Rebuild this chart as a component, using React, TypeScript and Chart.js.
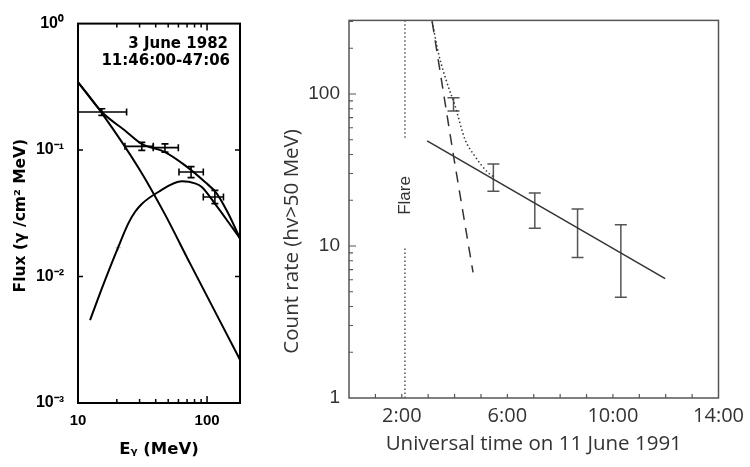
import React, { useEffect, useRef } from 'react';
import { Chart, registerables } from 'chart.js';
Chart.register(...registerables);

// ---------- Left panel: 3 June 1982 spectrum ----------
const totalEnergy = [10, 15.3, 23.1, 31.2, 47.2, 67.5, 96.4, 119, 146, 180];
const totalFlux = [0.345, 0.2, 0.143, 0.112, 0.0964, 0.0757, 0.0559, 0.0453, 0.0315, 0.02];
const powerEnergy = [10, 15.3, 30.3, 47.2, 73.8, 180];
const powerFlux = [0.345, 0.196, 0.069, 0.031, 0.0127, 0.0022];
const pionEnergy = [12.4, 15.9, 20.5, 24.5, 27.7, 31.2, 41.9, 63.7, 80.7, 91, 115, 146, 180];
const pionFlux = [0.00452, 0.0089, 0.0171, 0.0262, 0.0325, 0.0375, 0.0466, 0.0566, 0.0545, 0.051, 0.0377, 0.027, 0.02];

const pointEnergy = [15.3, 31.2, 47.2, 75.2, 115];
const pointFlux = [0.2, 0.107, 0.1045, 0.067, 0.0425];
const pointEnergyLow = [10, 23.1, 38.3, 60.6, 93.5];
const pointEnergyHigh = [23.8, 38.3, 59.9, 93.5, 134];
const pointFluxLow = [0.188, 0.0995, 0.0964, 0.0605, 0.0377];
const pointFluxHigh = [0.212, 0.115, 0.112, 0.074, 0.048];
const faintEnergy = [20.5];
const faintFlux = [0.0169];

const leftXLabelTicks = [10, 100];
const leftXMinorTicks = [20, 30, 40, 50, 60, 70, 80, 90];
const leftXMajorTicks = [100];
const leftYLabelTicks = [0.001, 0.01, 0.1, 1];
const leftYLabels = ['10⁻³', '10⁻²', '10⁻¹', '10⁰'];
const leftYMarkTicks = [0.01, 0.1];

// ---------- Right panel: 11 June 1991 count rate ----------
const flareHour = 2.12;
const flareTopRate = [51.5, 305];
const flareBottomRate = [1, 10];
const dottedHours = [3.15, 3.4, 3.71, 4.02, 4.39, 4.76, 5.26, 5.51];
const dottedRate = [300, 182, 119, 83.4, 50.5, 39.2, 30.5, 28.3];
const dashedHours = [3.15, 3.96, 4.7];
const dashedRate = [300, 39.2, 6.7];
const fitHours = [2.96, 11.98];
const fitRate = [49.2, 6.1];
const barHours = [3.96, 5.47, 7.04, 8.66, 10.3];
const barLow = [77.4, 22.9, 13.1, 8.4, 4.6];
const barHigh = [94.6, 34.6, 22.3, 17.5, 13.8];

const rightXTicks = [0, 1, 2, 3, 4, 5, 6, 7, 8, 9, 10, 11, 12, 13, 14];
const rightXLabelTicks = [2, 6, 10, 14];
const rightXLabels = ['2:00', '6:00', '10:00', '14:00'];
const rightYMajor = [1, 10, 100];
const rightYMinor = [2, 3, 4, 5, 6, 7, 8, 9, 20, 30, 40, 50, 60, 70, 80, 90, 200, 300];

const xy = (xs: number[], ys: number[]) => xs.map((x, i) => ({ x, y: ys[i] }));

const framePlugin = {
  id: 'frame',
  afterDatasetsDraw(chart: any, _args: any, opts: any) {
    const { ctx, chartArea: a, scales } = chart;
    ctx.save();
    ctx.strokeStyle = opts.color;
    ctx.lineWidth = opts.width;
    ctx.strokeRect(a.left, a.top, a.right - a.left, a.bottom - a.top);
    ctx.lineWidth = opts.tickWidth;
    ctx.beginPath();
    for (const t of opts.xTicks) {
      const px = scales.x.getPixelForValue(t.v);
      if (px <= a.left + 1 || px >= a.right - 1) continue;
      ctx.moveTo(px, a.bottom);
      ctx.lineTo(px, a.bottom - t.len);
      if (opts.xTop) {
        ctx.moveTo(px, a.top);
        ctx.lineTo(px, a.top + t.len);
      }
    }
    for (const t of opts.yTicks) {
      const py = scales.y.getPixelForValue(t.v);
      if (py <= a.top + 1 || py >= a.bottom - 1) continue;
      ctx.moveTo(a.left, py);
      ctx.lineTo(a.left + t.len, py);
      if (opts.yRight) {
        ctx.moveTo(a.right, py);
        ctx.lineTo(a.right - t.len, py);
      }
    }
    ctx.stroke();
    for (const t of opts.texts || []) {
      ctx.save();
      ctx.font = t.font;
      ctx.fillStyle = t.color;
      ctx.textAlign = t.align;
      ctx.textBaseline = 'middle';
      let x: number, y: number;
      if (t.data) {
        x = scales.x.getPixelForValue(t.x);
        y = scales.y.getPixelForValue(t.y);
      } else {
        x = (t.fromRight ? a.right : a.left) + t.dx;
        y = a.top + t.dy;
      }
      ctx.translate(x, y);
      if (t.rotate) ctx.rotate(t.rotate);
      ctx.fillText(t.text, 0, 0);
      ctx.restore();
    }
    ctx.restore();
  },
};

function leftConfig(): any {
  const hBars = pointEnergy.flatMap((_, i) => [
    { x: pointEnergyLow[i], y: pointFlux[i] },
    { x: pointEnergyHigh[i], y: pointFlux[i] },
    { x: pointEnergyHigh[i], y: null },
  ]);
  const vBars = pointEnergy.flatMap((e, i) => [
    { x: e, y: pointFluxLow[i] },
    { x: e, y: pointFluxHigh[i] },
    { x: e, y: null },
  ]);
  const curve = (data: any) => ({
    data, showLine: true, borderColor: '#000', borderWidth: 2, pointRadius: 0,
    cubicInterpolationMode: 'monotone', fill: false,
  });
  const tickFont = { family: 'Liberation Sans', weight: 'bold', size: 15 };
  const titleFont = { family: 'DejaVu Sans', weight: 'bold', size: 16.5 };
  return {
    type: 'scatter',
    data: {
      datasets: [
        curve(xy(totalEnergy, totalFlux)),
        curve(xy(powerEnergy, powerFlux)),
        curve(xy(pionEnergy, pionFlux)),
        {
          data: hBars, showLine: true, spanGaps: false, borderColor: '#000', borderWidth: 1.6,
          pointStyle: 'line', rotation: 90, pointRadius: 3.5, pointBorderColor: '#000', pointBorderWidth: 1.6,
        },
        {
          data: vBars, showLine: true, spanGaps: false, borderColor: '#000', borderWidth: 1.6,
          pointStyle: 'line', rotation: 0, pointRadius: 3.5, pointBorderColor: '#000', pointBorderWidth: 1.6,
        },
        {
          data: xy(faintEnergy, faintFlux), showLine: false, pointStyle: 'cross', pointRadius: 3,
          pointBorderColor: '#bbb', pointBorderWidth: 1,
        },
      ],
    },
    options: {
      responsive: false, animation: false, events: [],
      layout: { padding: { left: 7, right: 10, top: 23, bottom: 3 } },
      plugins: {
        legend: { display: false }, tooltip: { enabled: false },
        frame: {
          color: '#000', width: 2, tickWidth: 1.5, xTop: true, yRight: true,
          xTicks: [...leftXMinorTicks.map((v) => ({ v, len: 4 })), ...leftXMajorTicks.map((v) => ({ v, len: 7 }))],
          yTicks: leftYMarkTicks.map((v) => ({ v, len: 5 })),
          texts: [
            { text: '3 June 1982', font: 'bold 15px "DejaVu Sans"', color: '#000', align: 'right', fromRight: true, dx: -12, dy: 21 },
            { text: '11:46:00-47:06', font: 'bold 15px "DejaVu Sans"', color: '#000', align: 'right', fromRight: true, dx: -10, dy: 38 },
            { text: 'Flux (γ /cm² MeV)', font: 'bold 15.5px "DejaVu Sans"', color: '#000', align: 'center', dx: -57, dy: 192, rotate: -Math.PI / 2 },
          ],
        },
      },
      scales: {
        x: {
          type: 'logarithmic', min: 10, max: 180,
          afterFit: (s: any) => { s.height = 61; },
          afterBuildTicks: (s: any) => { s.ticks = leftXLabelTicks.map((v) => ({ value: v })); },
          ticks: { callback: (v: number) => String(v), autoSkip: false, maxRotation: 0, padding: 9, font: tickFont, color: '#000' },
          grid: { display: false, drawTicks: false }, border: { display: false },
          title: { display: true, text: 'Eᵧ (MeV)', font: titleFont, color: '#000', padding: { top: 0, bottom: 4 } },
        },
        y: {
          type: 'logarithmic', min: 0.001, max: 1,
          afterFit: (s: any) => { s.width = 71; },
          afterBuildTicks: (s: any) => { s.ticks = leftYLabelTicks.map((v) => ({ value: v })); },
          ticks: {
            callback: (v: number) => leftYLabels[leftYLabelTicks.indexOf(v)] ?? '',
            autoSkip: false, padding: 14, font: { ...tickFont, size: 16 }, color: '#000',
          },
          grid: { display: false, drawTicks: false }, border: { display: false },
          title: { display: false },
        },
      },
    },
    plugins: [framePlugin],
  };
}

function rightConfig(): any {
  const bars = barHours.flatMap((h, i) => [
    { x: h, y: barLow[i] },
    { x: h, y: barHigh[i] },
    { x: h, y: null },
  ]);
  const line = (data: any, dash: number[], color: string, mono = false) => ({
    data, showLine: true, borderColor: color, borderWidth: 1.5, borderDash: dash, pointRadius: 0,
    cubicInterpolationMode: mono ? 'monotone' : 'default', fill: false,
  });
  const tickFontY = { family: 'Liberation Sans', size: 19 };
  const tickFontX = { family: 'Open Sans', size: 20 };
  return {
    type: 'scatter',
    data: {
      datasets: [
        line(xy([flareHour, flareHour], flareTopRate), [1.5, 2.5], '#555'),
        line(xy([flareHour, flareHour], flareBottomRate), [1.5, 2.5], '#555'),
        line(xy(dottedHours, dottedRate), [1.5, 2.5], '#333', true),
        line(xy(dashedHours, dashedRate), [11, 8], '#333'),
        line(xy(fitHours, fitRate), [], '#333'),
        {
          data: bars, showLine: true, spanGaps: false, borderColor: '#555', borderWidth: 1.5,
          pointStyle: 'line', rotation: 0, pointRadius: 6, pointBorderColor: '#555', pointBorderWidth: 1.5,
        },
      ],
    },
    options: {
      responsive: false, animation: false, events: [],
      layout: { padding: { left: 11, right: 26, top: 19, bottom: 8 } },
      plugins: {
        legend: { display: false }, tooltip: { enabled: false },
        frame: {
          color: '#555', width: 1.5, tickWidth: 1.2, xTop: false, yRight: false,
          xTicks: rightXTicks.map((v) => ({ v, len: 4 })),
          yTicks: [...rightYMajor.map((v) => ({ v, len: 7 })), ...rightYMinor.map((v) => ({ v, len: 4 }))],
          texts: [
            { text: 'Flare', font: '17px "Liberation Sans"', color: '#333', align: 'center', data: true, x: flareHour, y: 21.5, rotate: -Math.PI / 2 },
            { text: 'Count rate (hv>50 MeV)', font: '20.5px "Open Sans"', color: '#333', align: 'center', dx: -57, dy: 221, rotate: -Math.PI / 2 },
          ],
        },
      },
      scales: {
        x: {
          type: 'linear', min: 0, max: 14,
          afterFit: (s: any) => { s.height = 61; },
          afterBuildTicks: (s: any) => { s.ticks = rightXLabelTicks.map((v) => ({ value: v })); },
          ticks: {
            callback: (v: number) => rightXLabels[rightXLabelTicks.indexOf(v)] ?? '',
            autoSkip: false, maxRotation: 0, padding: 6, font: tickFontX, color: '#333',
          },
          grid: { display: false, drawTicks: false }, border: { display: false },
          title: { display: true, text: 'Universal time on 11 June 1991', font: { family: 'Open Sans', size: 20.5 }, color: '#333', padding: { top: 0, bottom: 3 } },
        },
        y: {
          type: 'logarithmic', min: 1, max: 305,
          afterFit: (s: any) => { s.width = 76; },
          afterBuildTicks: (s: any) => { s.ticks = rightYMajor.map((v) => ({ value: v })); },
          ticks: { callback: (v: number) => String(v), autoSkip: false, padding: 9, font: tickFontY, color: '#333' },
          grid: { display: false, drawTicks: false }, border: { display: false },
          title: { display: false },
        },
      },
    },
    plugins: [framePlugin],
  };
}

export default function App() {
  const leftRef = useRef<HTMLCanvasElement>(null);
  const rightRef = useRef<HTMLCanvasElement>(null);
  useEffect(() => {
    const c1 = new Chart(leftRef.current as HTMLCanvasElement, leftConfig());
    const c2 = new Chart(rightRef.current as HTMLCanvasElement, rightConfig());
    return () => {
      c1.destroy();
      c2.destroy();
    };
  }, []);
  return (
    <div style={{ position: 'fixed', left: 0, top: 0, width: 750, height: 467, background: '#fff' }}>
      <canvas ref={leftRef} width={250} height={467} style={{ position: 'absolute', left: 0, top: 0, width: 250, height: 467 }} />
      <canvas ref={rightRef} width={488} height={467} style={{ position: 'absolute', left: 262, top: 0, width: 488, height: 467 }} />
    </div>
  );
}
